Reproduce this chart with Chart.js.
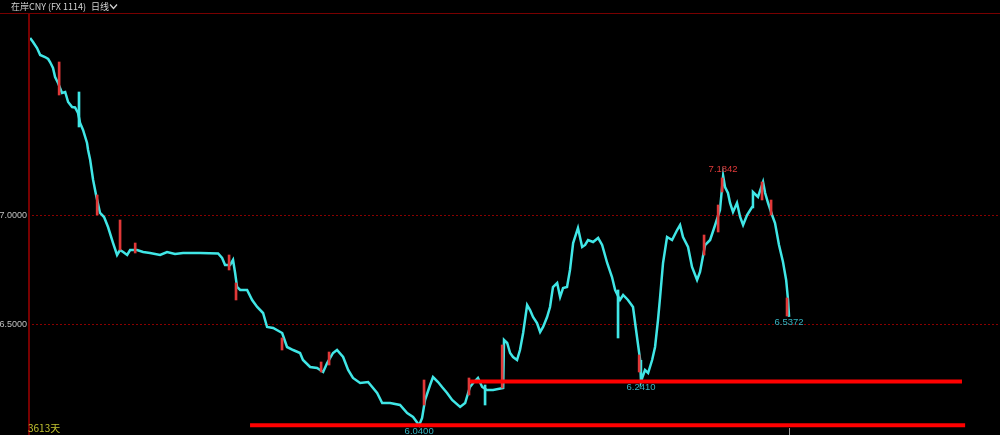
<!DOCTYPE html>
<html>
<head>
<meta charset="utf-8">
<script src="https://cdn.jsdelivr.net/npm/chart.js@4.4.1/dist/chart.umd.min.js"></script>
<style>
  html, body { margin: 0; padding: 0; background: #000; }
  #wrap { width: 1000px; height: 435px; position: relative; }
</style>
</head>
<body>
<div id="wrap"><canvas id="myChart"></canvas></div>
<script>
// day index (since first bar) and close price
const days = [
  0, 14, 33, 48, 71, 86, 95, 109, 119, 133, 152, 167, 181, 200, 214, 228, 238, 252, 271, 276,
  286, 300, 314, 333, 352, 371, 395, 414, 428, 443, 462, 476, 509, 538, 571, 619, 652, 690, 728, 809,
  895, 914, 928, 952, 966, 976, 985, 1000, 1033, 1057, 1081, 1109, 1128, 1157, 1200, 1223, 1252, 1285, 1299, 1333,
  1366, 1395, 1414, 1442, 1461, 1490, 1514, 1537, 1571, 1609, 1652, 1676, 1714, 1761, 1795, 1823, 1852, 1866, 1880, 1904,
  1918, 1942, 1961, 1985, 2009, 2047, 2071, 2085, 2094, 2109, 2132, 2152, 2175, 2204, 2252, 2256, 2271, 2285, 2299, 2318,
  2332, 2347, 2366, 2380, 2394, 2413, 2428, 2442, 2461, 2475, 2489, 2509, 2523, 2537, 2556, 2570, 2585, 2608, 2628, 2642,
  2656, 2680, 2704, 2723, 2747, 2770, 2785, 2808, 2823, 2846, 2870, 2889, 2904, 2908, 2927, 2942, 2961, 2975, 2989, 2999,
  3013, 3032, 3056, 3080, 3094, 3108, 3132, 3151, 3175, 3189, 3213, 3237, 3261, 3284, 3299, 3308, 3322, 3332, 3346, 3365,
  3380, 3394, 3413, 3437, 3441, 3465, 3489, 3499, 3513, 3532, 3546, 3565, 3584, 3599, 3608, 3613
];
const prices = [
  7.8165, 7.7982, 7.7706, 7.7385, 7.7294, 7.7202, 7.7064, 7.6789, 7.6376, 7.6101, 7.5642, 7.5688, 7.5229, 7.5000, 7.4980, 7.4725, 7.4266, 7.3945, 7.3349, 7.3028,
  7.2569, 7.1651, 7.0963, 7.0138, 6.9954, 6.9495, 6.8761, 6.8211, 6.8440, 6.8349, 6.8211, 6.8440, 6.8440, 6.8349, 6.8303, 6.8211, 6.8349, 6.8257, 6.8303, 6.8303,
  6.8280, 6.8073, 6.7752, 6.7752, 6.7982, 6.7385, 6.6743, 6.6606, 6.6606, 6.6147, 6.5826, 6.5550, 6.4908, 6.4862, 6.4633, 6.3991, 6.3853, 6.3716, 6.3394, 6.3073,
  6.3028, 6.2844, 6.3257, 6.3716, 6.3853, 6.3532, 6.2936, 6.2569, 6.2339, 6.2385, 6.1881, 6.1422, 6.1422, 6.1330, 6.0963, 6.0780, 6.0400, 6.0734, 6.1560, 6.2248,
  6.2615, 6.2385, 6.2156, 6.1881, 6.1560, 6.1239, 6.1422, 6.1881, 6.2156, 6.2339, 6.2569, 6.2156, 6.2018, 6.2018, 6.2110, 6.4312, 6.4174, 6.3716, 6.3532, 6.3394,
  6.3853, 6.4633, 6.5917, 6.5688, 6.5367, 6.5092, 6.4679, 6.4908, 6.5367, 6.5826, 6.6743, 6.6927, 6.6284, 6.6697, 6.6743, 6.7523, 6.8761, 6.9450, 6.8578, 6.8670,
  6.8899, 6.8807, 6.8991, 6.8670, 6.7844, 6.7202, 6.6606, 6.6147, 6.6376, 6.6147, 6.5826, 6.4450, 6.3394, 6.2410, 6.2936, 6.2798, 6.3394, 6.3991, 6.5229, 6.6284,
  6.7844, 6.9037, 6.8899, 6.9358, 6.9587, 6.9037, 6.8578, 6.7661, 6.7064, 6.7431, 6.8670, 6.8899, 6.9587, 7.0275, 7.1842, 7.1330, 7.1055, 7.0596, 7.0183, 7.0596,
  6.9954, 6.9587, 7.0046, 7.0413, 7.1101, 7.0872, 7.1560, 7.1055, 7.0596, 7.0046, 6.9679, 6.8670, 6.7890, 6.7064, 6.6147, 6.5372
];

// visible high/low wicks
const redWickDays = [143, 324, 433, 505, 952, 985, 1204, 1390, 1428, 1880, 2094, 2252, 2904, 3213, 3280, 3299, 3489, 3532, 3608];
const redWickLow  = [7.5550, 7.0046, 6.8440, 6.8303, 6.7523, 6.6147, 6.3853, 6.2844, 6.3165, 6.1330, 6.1789, 6.2110, 6.2844, 6.8211, 6.9266, 7.1101, 7.0734, 7.0046, 6.5413];
const redWickHigh = [7.7064, 7.0963, 6.9817, 6.8761, 6.8211, 6.6927, 6.4404, 6.3303, 6.3761, 6.2477, 6.2569, 6.4083, 6.3624, 6.9128, 7.0505, 7.1743, 7.1560, 7.0734, 6.6239];
const cyanWickDays = [228, 2161, 2794];
const cyanWickLow  = [7.4083, 6.1330, 6.4404];
const cyanWickHigh = [7.5688, 6.2248, 6.6606];

// support lines
const upperLineDays = [2094, 4436];
const upperLineValue = 6.2410;
const lowerLineDays = [1047, 4451];
const lowerLineValue = 6.0400;

// marked extremes
const markDays   = [3299, 3613, 2908, 1852];
const markValues = [7.1842, 6.5372, 6.2410, 6.0400];
const markColors = ["#e03a3a", "#35b4c2", "#35b4c2", "#35b4c2"];
const markSide   = ["above", "below", "below", "below"];

const yTicks = [6.5, 7.0];
const dayCount = "3613天";

const pricePoints = days.map((d, i) => ({ x: d, y: prices[i] }));
const redWicks = redWickDays.map((d, i) => ({ x: d, y: [redWickLow[i], redWickHigh[i]] }));
const cyanWicks = cyanWickDays.map((d, i) => ({ x: d, y: [cyanWickLow[i], cyanWickHigh[i]] }));

const overlay = {
  id: "overlay",
  afterDraw(chart) {
    const ctx = chart.ctx;
    const xs = chart.scales.x, ys = chart.scales.y;
    ctx.save();
    // frame
    ctx.fillStyle = "#780000";
    ctx.fillRect(0, 13, 1000, 1);
    ctx.fillRect(28, 14, 2, 421);

    // y labels
    ctx.fillStyle = "#c0c0c0";
    ctx.font = "9px 'Liberation Sans'";
    ctx.textAlign = "right";
    ctx.textBaseline = "middle";
    yTicks.forEach(v => ctx.fillText(v.toFixed(4), 27, ys.getPixelForValue(v)));

    // header
    ctx.fillStyle = "#d2d2d2";
    ctx.textAlign = "left";
    ctx.font = "9px 'Noto Sans CJK SC'";
    ctx.fillText("在岸CNY (FX 1114)", 11, 7);
    ctx.fillText("日线", 91, 7);
    ctx.strokeStyle = "#d2d2d2";
    ctx.lineWidth = 1.2;
    ctx.beginPath();
    ctx.moveTo(110, 4.5);
    ctx.lineTo(113.5, 8.5);
    ctx.lineTo(117, 4.5);
    ctx.stroke();

    // day count
    ctx.fillStyle = "#c0c030";
    ctx.font = "10px 'Noto Sans CJK SC'";
    ctx.fillText(dayCount, 28, 428);

    // cursor tick at last bar
    const lx = Math.round(xs.getPixelForValue(days[days.length - 1])) + 0.5;
    ctx.strokeStyle = "#9a9a9a";
    ctx.lineWidth = 1;
    ctx.beginPath();
    ctx.moveTo(lx, 428);
    ctx.lineTo(lx, 435);
    ctx.stroke();

    // extreme labels
    ctx.font = "9.5px 'Liberation Sans'";
    ctx.textAlign = "center";
    markDays.forEach((d, i) => {
      const px = xs.getPixelForValue(d);
      const py = ys.getPixelForValue(markValues[i]);
      ctx.fillStyle = markColors[i];
      if (markSide[i] === "above") {
        ctx.textBaseline = "bottom";
        ctx.fillText(markValues[i].toFixed(4), px, py - 2);
      } else {
        ctx.textBaseline = "top";
        ctx.fillText(markValues[i].toFixed(4), px, py + 1);
      }
    });
    ctx.restore();
  }
};

const config = {
  type: "line",
  data: {
    datasets: [
      {
        label: "upper",
        data: upperLineDays.map(d => ({ x: d, y: upperLineValue })),
        borderColor: "#ff0000",
        borderWidth: 4,
        pointRadius: 0,
        order: 0,
      },
      {
        label: "lower",
        data: lowerLineDays.map(d => ({ x: d, y: lowerLineValue })),
        borderColor: "#ff0000",
        borderWidth: 4,
        pointRadius: 0,
        order: 1,
      },
      {
        type: "bar",
        label: "red",
        data: redWicks,
        backgroundColor: "#e03838",
        barThickness: 2,
        order: 2,
      },
      {
        type: "bar",
        label: "cyan",
        data: cyanWicks,
        backgroundColor: "#40e6e6",
        barThickness: 2,
        order: 3,
      },
      {
        label: "price",
        data: pricePoints,
        borderColor: "#40e6e6",
        borderWidth: 2.5,
        pointRadius: 0,
        tension: 0,
        order: 4,
      },
    ],
  },
  options: {
    responsive: true,
    maintainAspectRatio: false,
    animation: false,
    layout: { padding: { top: 14, left: 0, right: 0, bottom: 0 } },
    plugins: { legend: { display: false }, tooltip: { enabled: false } },
    scales: {
      x: { type: "linear", min: -10, max: 4617, display: false, offset: false, grid: { offset: false } },
      y: {
        min: 5.9954,
        max: 7.9266,
        afterFit(scale) { scale.width = 28; },
        afterBuildTicks(scale) { scale.ticks = yTicks.map(v => ({ value: v })); },
        ticks: { display: false },
        grid: { color: "#8a0000", drawTicks: false, lineWidth: 1 },
        border: { display: false, dash: [2, 2] },
      },
    },
  },
  plugins: [overlay],
};

var myChart = new Chart(document.getElementById("myChart"), config);
</script>
</body>
</html>
